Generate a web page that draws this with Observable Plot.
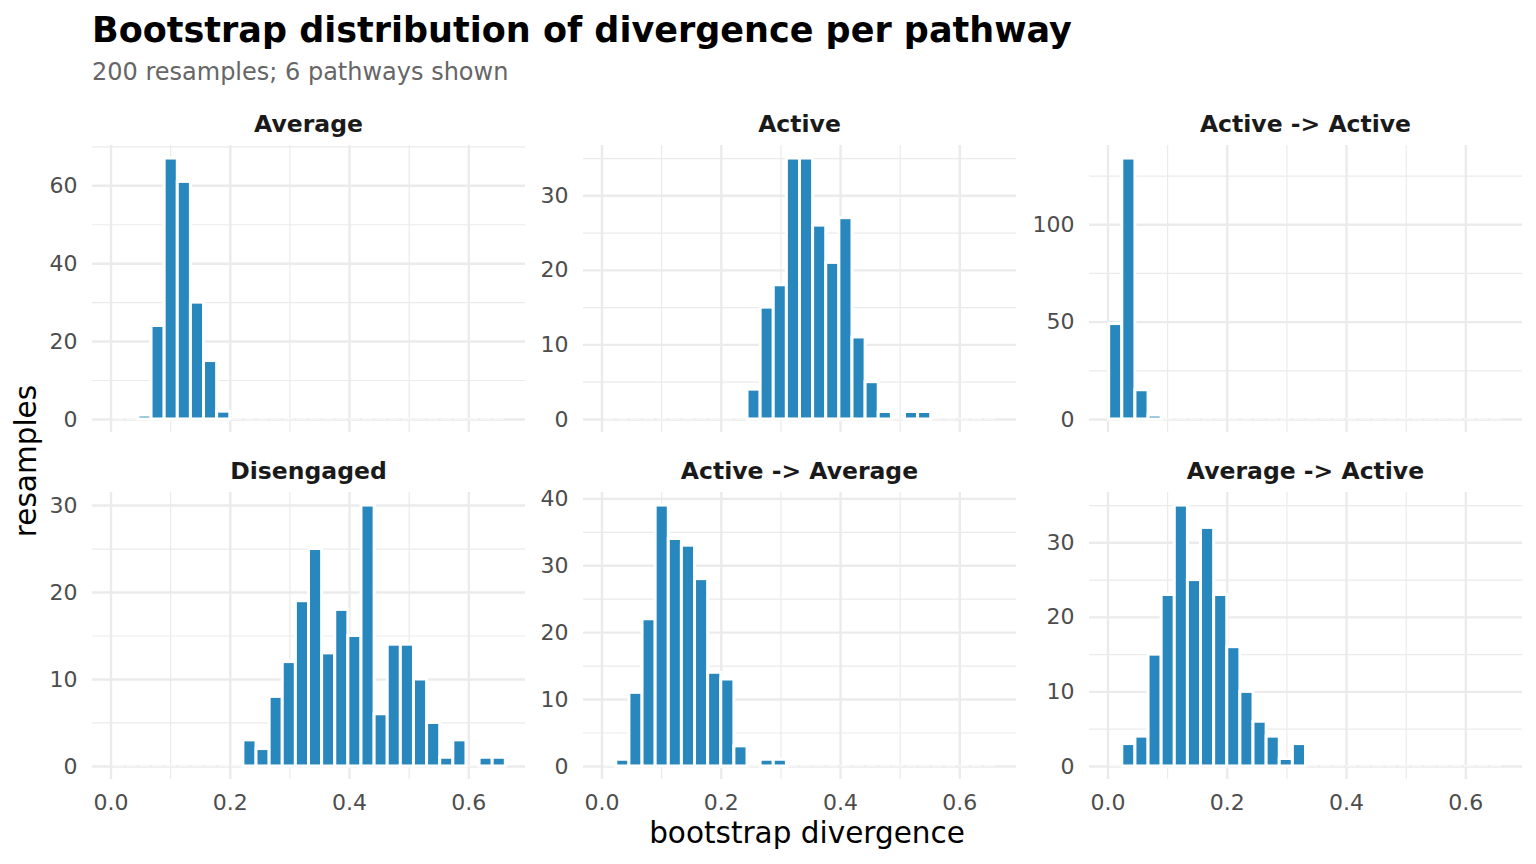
<!DOCTYPE html>
<html><head><meta charset="utf-8">
<script src="https://cdn.jsdelivr.net/npm/d3@7"></script>
<script src="https://cdn.jsdelivr.net/npm/@observablehq/plot@0.6"></script>
<style>
body{margin:0;background:#fff;}
#chart{position:relative;width:1536px;height:864px;font-family:"DejaVu Sans",sans-serif;overflow:hidden;}
#chart svg{position:absolute;}
</style></head><body><div id="chart"></div>
<script>
// ---- data ----
const titleText = "Bootstrap distribution of divergence per pathway";
const subtitleText = "200 resamples; 6 pathways shown";
const xTitle = "bootstrap divergence";
const yTitle = "resamples";
const pathways = ["Average", "Active", "Active -> Active", "Disengaged", "Active -> Average", "Average -> Active"];
// 30 bins of width 0.022 starting at 0.002
const binStart = 0.002;
const binWidth = 0.022;
const countsAverage         = [0,0,1,24,67,61,30,15,2,0, 0,0,0,0,0,0,0,0,0,0, 0,0,0,0,0,0,0,0,0,0];
const countsActive          = [0,0,0,0,0,0,0,0,0,0, 0,4,15,18,35,35,26,21,27,11, 5,1,0,1,1,0,0,0,0,0];
const countsActiveActive    = [49,134,15,2,0,0,0,0,0,0, 0,0,0,0,0,0,0,0,0,0, 0,0,0,0,0,0,0,0,0,0];
const countsDisengaged      = [0,0,0,0,0,0,0,0,0,0, 3,2,8,12,19,25,13,18,15,30, 6,14,14,10,5,1,3,0,1,1];
const countsActiveAverage   = [0,1,11,22,39,34,33,28,14,13, 3,0,1,1,0,0,0,0,0,0, 0,0,0,0,0,0,0,0,0,0];
const countsAverageActive   = [0,3,4,15,23,35,25,32,23,16, 10,6,4,1,3,0,0,0,0,0, 0,0,0,0,0,0,0,0,0,0];
const countsList = [countsAverage, countsActive, countsActiveActive, countsDisengaged, countsActiveAverage, countsAverageActive];
const xMajor = [0, 0.2, 0.4, 0.6];
const xMinor = [0.1, 0.3, 0.5];
const yMajorList = [[0,20,40,60],[0,10,20,30],[0,50,100],[0,10,20,30],[0,10,20,30,40],[0,10,20,30]];
const yMinorList = [[10,30,50,70],[5,15,25,35],[25,75,125],[5,15,25],[5,15,25,35],[5,15,25,35]];

// ---- layout ----
const panelLefts = [92, 583, 1089];
const panelTops = [145, 492];
const panelW = 433, panelH = 287;
const mL = 80, mB = 40;
const barFill = "#2887bd";
const grid = "#ebebeb";
const chart = document.getElementById("chart");

// text overlay
const svg = d3.select(chart).append("svg").attr("width", 1536).attr("height", 864).style("left", "0px").style("top", "0px");
svg.append("text").attr("x", 92).attr("y", 42).attr("font-size", 35).attr("font-weight", "bold").attr("fill", "#000").text(titleText);
svg.append("text").attr("x", 92).attr("y", 80).attr("font-size", 24).attr("fill", "#666").text(subtitleText);
svg.append("text").attr("x", 807).attr("y", 843).attr("text-anchor", "middle").attr("font-size", 29.5).attr("fill", "#000").text(xTitle);
svg.append("text").attr("transform", "translate(36,461) rotate(-90)").attr("text-anchor", "middle").attr("font-size", 29.5).attr("fill", "#000").text(yTitle);

const allX = [binStart, binStart + 30 * binWidth];
const xPad = 0.05 * (allX[1] - allX[0]);
const xDomain = [allX[0] - xPad, allX[1] + xPad];

pathways.forEach((name, i) => {
  const row = Math.floor(i / 3), col = i % 3;
  const counts = countsList[i];
  const bins = counts.map((n, k) => ({x1: binStart + k * binWidth, x2: binStart + (k + 1) * binWidth, n}));
  const maxN = d3.max(counts);
  const bottom = row === 1;
  svg.append("text").attr("x", panelLefts[col] + panelW / 2).attr("y", panelTops[row] - 13)
    .attr("text-anchor", "middle").attr("font-size", 23.5).attr("font-weight", "bold").attr("fill", "#1a1a1a").text(name);
  const marks = [
    Plot.ruleX(xMinor, {stroke: grid, strokeWidth: 1.2}),
    Plot.ruleY(yMinorList[i], {stroke: grid, strokeWidth: 1.2}),
    Plot.ruleX(xMajor, {stroke: grid, strokeWidth: 2.4}),
    Plot.ruleY(yMajorList[i], {stroke: grid, strokeWidth: 2.4}),
    Plot.rect(bins.filter(d => d.n === 0), {x1: "x1", x2: "x2", y1: 0, y2: 0, fill: "white", fillOpacity: 0.8, insetTop: -0.6, insetBottom: -0.6, insetLeft: 1, insetRight: 1}),
    Plot.rectY(bins.filter(d => d.n > 0), {x1: "x1", x2: "x2", y: "n", fill: barFill, stroke: "white", strokeWidth: 3}),
    Plot.axisY(yMajorList[i], {tickSize: 0, tickPadding: 15, label: null, fontSize: 22, fill: "#4d4d4d"})
  ];
  if (bottom) marks.push(Plot.axisX(xMajor, {tickSize: 0, tickPadding: 15, label: null, fontSize: 22, fill: "#4d4d4d", tickFormat: d3.format(".1f")}));
  const p = Plot.plot({
    width: mL + panelW, height: panelH + (bottom ? mB : 0),
    marginLeft: mL, marginRight: 0, marginTop: 0, marginBottom: bottom ? mB : 0,
    style: {background: "none", fontFamily: "DejaVu Sans", overflow: "visible"},
    x: {domain: xDomain, axis: bottom ? undefined : null},
    y: {domain: [-0.05 * maxN, 1.05 * maxN]},
    marks
  });
  p.style.position = "absolute";
  p.style.left = (panelLefts[col] - mL) + "px";
  p.style.top = panelTops[row] + "px";
  chart.appendChild(p);
});
</script></body></html>
